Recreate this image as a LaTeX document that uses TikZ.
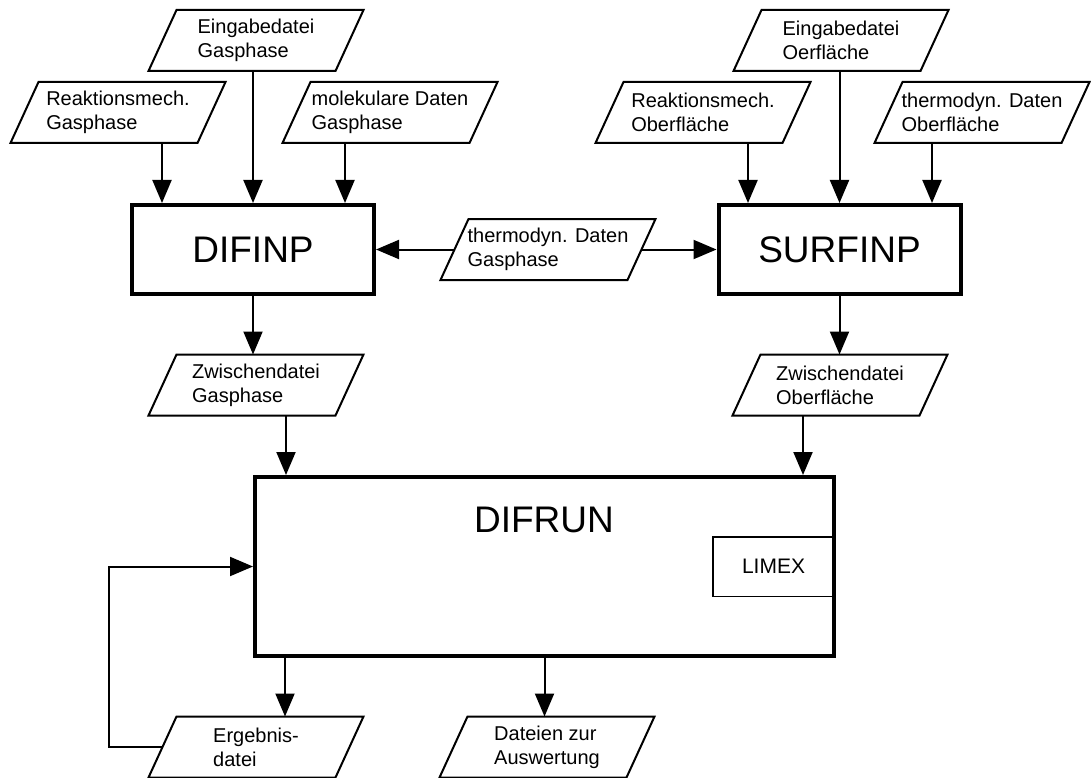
\documentclass[tikz,border=0pt]{standalone}
\usepackage{fontspec}
\setmainfont{Liberation Sans}
\usetikzlibrary{arrows.meta}

% Rahmen einer Datei (Parallelogramm um den Textknoten)
\newcommand{\dateirahmen}[1]{%
    \draw ([xshift=14pt]#1.north west) -- ([xshift=14pt]#1.north east)
        -- ([xshift=-14pt]#1.south east) -- ([xshift=-14pt]#1.south west) -- cycle;}

\begin{document}
\begin{tikzpicture}[x=1pt,y=-1pt,line width=2pt,
    >={Triangle[length=23pt,width=19pt]},
    datei/.style={minimum width=187pt,minimum height=61pt,inner sep=0pt,outer sep=0pt,
        align=left,font=\fontsize{20}{24}\selectfont},
    programm/.style={draw,line width=4pt,minimum width=242pt,minimum height=89pt,
        font=\fontsize{37}{40}\selectfont},
    unterprogramm/.style={draw,line width=1.5pt,minimum width=121.5pt,minimum height=59.5pt,
        font=\fontsize{21}{24}\selectfont}]
    \useasboundingbox (0,0) rectangle (1091,778);

    \node[datei] (eingas) at (256,40.5) {Eingabedatei\\Gasphase};
    \node[datei] (reakgas) at (118,112.5) {Reaktionsmech.\\Gasphase};
    \node[datei] (molgas) at (390,112.5) {molekulare Daten\\Gasphase};
    \node[datei] (einob) at (841,40.5) {Eingabedatei\\Oerfläche};
    \node[datei] (reakob) at (703,112.5) {Reaktionsmech.\\Oberfläche};
    \node[datei] (thermoob) at (982,112.5) {thermodyn. Daten\\Oberfläche};
    \node[datei] (thermogas) at (548,249.5) {thermodyn. Daten\\Gasphase};
    \node[datei] (zwgas) at (256,385) {Zwischendatei\\Gasphase};
    \node[datei] (zwob) at (840,385) {Zwischendatei\\Oberfläche};
    \node[datei] (ergebnis) at (256,747) {Ergebnis-\\datei};
    \node[datei] (dateien) at (547,747) {Dateien zur\\Auswertung};
    \foreach \n in {eingas,reakgas,molgas,einob,reakob,thermoob,thermogas,zwgas,zwob,ergebnis,dateien}
        {\dateirahmen{\n}}

    \node[programm] (difinp) at (253,249.5) {DIFINP};
    \node[programm] (surfinp) at (839.5,249.5) {SURFINP};
    \node[programm,minimum width=579pt,minimum height=179pt] (difrun) at (544.5,566.5) {};
    \node[font=\fontsize{37}{40}\selectfont] (difrun-titel) at (544,520) {DIFRUN};
    \node[unterprogramm] (limex) at (773.5,566.5) {LIMEX};

    \path[->]
        (reakgas.south -| 162,0) edge (162,0 |- difinp.north)
        (eingas.south -| difinp.north) edge (difinp.north)
        (molgas.south -| 345,0) edge (345,0 |- difinp.north)
        (reakob.south -| 748,0) edge (748,0 |- surfinp.north)
        (einob.south -| surfinp.north) edge (surfinp.north)
        (thermoob.south -| 932,0) edge (932,0 |- surfinp.north)
        (thermogas.west) edge (thermogas.west -| difinp.east)
        (thermogas.east) edge (thermogas.east -| surfinp.west)
        (difinp.south) edge (difinp.south |- zwgas.north)
        (surfinp.south) edge (surfinp.south |- zwob.north)
        (zwgas.south -| 286,0) edge (286,0 |- difrun.north)
        (zwob.south -| 803,0) edge (803,0 |- difrun.north)
        (difrun.south -| 285,0) edge (285,0 |- ergebnis.north)
        (difrun.south) edge (difrun.south |- dateien.north);
    \draw[->] (ergebnis.west) -- ++(-54,0) |- (difrun.west);
\end{tikzpicture}
\end{document}
